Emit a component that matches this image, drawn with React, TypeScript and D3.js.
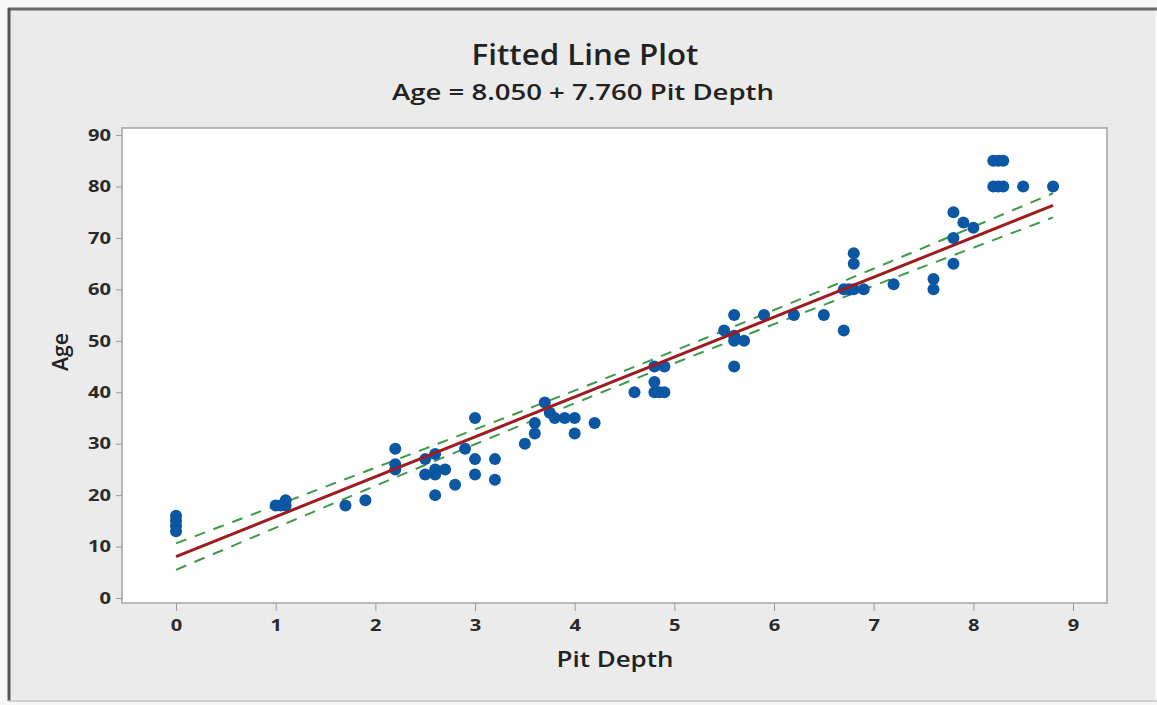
import React, { useEffect, useRef } from 'react';
import * as d3 from 'd3';

// Pit depth vs age
const pitDepth = [
  0, 0, 0, 0,
  1.0, 1.05, 1.1, 1.1,
  1.7, 1.9,
  2.2, 2.2, 2.2,
  2.5, 2.5, 2.6, 2.6, 2.6, 2.6, 2.7,
  2.8, 2.9,
  3.0, 3.0, 3.0,
  3.2, 3.2,
  3.5, 3.6, 3.6, 3.7,
  3.75, 3.8, 3.9, 4.0, 4.0, 4.2,
  4.6, 4.8, 4.9, 4.8, 4.8, 4.85, 4.9,
  5.5, 5.6, 5.6, 5.6, 5.7, 5.6,
  5.9, 6.2, 6.5, 6.7,
  6.8, 6.8, 6.7, 6.75, 6.8, 6.9,
  7.2, 7.6, 7.6,
  7.8, 7.8, 7.8, 7.9, 8.0,
  8.2, 8.25, 8.3, 8.2, 8.25, 8.3, 8.5, 8.8
];
const age = [
  16, 15, 14, 13,
  18, 18, 18, 19,
  18, 19,
  29, 26, 25,
  27, 24, 28, 25, 24, 20, 25,
  22, 29,
  35, 27, 24,
  27, 23,
  30, 32, 34, 38,
  36, 35, 35, 35, 32, 34,
  40, 45, 45, 42, 40, 40, 40,
  52, 55, 51, 50, 50, 45,
  55, 55, 55, 52,
  67, 65, 60, 60, 60, 60,
  61, 62, 60,
  75, 70, 65, 73, 72,
  85, 85, 85, 80, 80, 80, 80, 80
];

const intercept = 8.05;
const slope = 7.76;
const tCrit = 1.994; // 95% t value, ~73 df

const xTicks = [0, 1, 2, 3, 4, 5, 6, 7, 8, 9];
const yTicks = [0, 10, 20, 30, 40, 50, 60, 70, 80, 90];

const W = 1157, H = 705;
const plot = { left: 122, right: 1107, top: 128, bottom: 603 };
const font = "'Open Sans', 'DejaVu Sans', sans-serif";

export default function App() {
  const ref = useRef<SVGSVGElement>(null);

  useEffect(() => {
    const svg = d3.select(ref.current);
    svg.selectAll('*').remove();

    // outer panel
    svg.append('rect').attr('width', W).attr('height', H).attr('fill', '#f6f6f6');
    svg.append('rect')
      .attr('x', 8).attr('y', 8).attr('width', W - 10).attr('height', H - 12)
      .attr('fill', '#ebebeb');
    svg.append('line').attr('x1', 8).attr('x2', W).attr('y1', 9).attr('y2', 9)
      .attr('stroke', '#6a6a6a').attr('stroke-width', 3);
    svg.append('line').attr('x1', 9).attr('x2', 9).attr('y1', 8).attr('y2', H - 4)
      .attr('stroke', '#555').attr('stroke-width', 3);
    svg.append('line').attr('x1', 8).attr('x2', W).attr('y1', H - 4).attr('y2', H - 4)
      .attr('stroke', '#c4c4c4').attr('stroke-width', 1.5);

    const x = d3.scaleLinear().domain([-0.542, 9.341]).range([plot.left, plot.right]);
    const y = d3.scaleLinear().domain([-0.97, 91.37]).range([plot.bottom, plot.top]);

    svg.append('rect')
      .attr('x', plot.left).attr('y', plot.top)
      .attr('width', plot.right - plot.left).attr('height', plot.bottom - plot.top)
      .attr('fill', '#fff').attr('stroke', '#a4a4a4').attr('stroke-width', 1.5);

    // axes
    const xAxis = svg.append('g')
      .attr('transform', 'translate(0,' + plot.bottom + ')')
      .call(d3.axisBottom(x).tickValues(xTicks).tickSize(8).tickPadding(8));
    const yAxis = svg.append('g')
      .attr('transform', 'translate(' + plot.left + ',0)')
      .call(d3.axisLeft(y).tickValues(yTicks).tickSize(6).tickPadding(5));
    [xAxis, yAxis].forEach(g => {
      g.select('.domain').remove();
      g.selectAll('line').attr('stroke', '#999');
      g.selectAll<SVGTextElement, number>('text')
        .style('font', '700 16.5px ' + font)
        .attr('fill', '#2a2a2a')
        .attr('textLength', d => String(d).length * 11.5)
        .attr('lengthAdjust', 'spacingAndGlyphs');
    });

    // regression stats for the 95% CI band
    const n = pitDepth.length;
    const xbar = d3.mean(pitDepth) as number;
    const sxx = d3.sum(pitDepth, d => (d - xbar) * (d - xbar));
    const sse = d3.sum(pitDepth, (d, i) => Math.pow(age[i] - (intercept + slope * d), 2));
    const s = Math.sqrt(sse / (n - 2));
    const x0 = d3.min(pitDepth) as number, x1 = d3.max(pitDepth) as number;
    const grid = d3.range(x0, x1 + 0.001, (x1 - x0) / 60);
    const half = (v: number) => tCrit * s * Math.sqrt(1 / n + (v - xbar) * (v - xbar) / sxx);

    const line = d3.line<number[]>().x(d => x(d[0])).y(d => y(d[1]));

    const g = svg.append('g');
    [1, -1].forEach(sign => {
      g.append('path')
        .datum(grid.map(v => [v, intercept + slope * v + sign * half(v)]))
        .attr('d', line)
        .attr('fill', 'none')
        .attr('stroke', '#3f9a4a')
        .attr('stroke-width', 2)
        .attr('stroke-dasharray', '11,9');
    });

    g.selectAll('circle')
      .data(pitDepth)
      .enter().append('circle')
        .attr('cx', d => x(d))
        .attr('cy', (d, i) => y(age[i]))
        .attr('r', 6)
        .attr('fill', '#0b57a4');

    g.append('path')
      .datum([[x0, intercept + slope * x0], [x1, intercept + slope * x1]])
      .attr('d', line)
      .attr('stroke', '#9e1c1f')
      .attr('stroke-width', 3);

    // titles (stretched a little to match the wide source lettering)
    const label = (txt: string, tx: number, ty: number, size: number, len: number, rot = 0) =>
      svg.append('text')
        .attr('transform', 'translate(' + tx + ',' + ty + ') rotate(' + rot + ')')
        .attr('text-anchor', 'middle')
        .style('font', '600 ' + size + 'px ' + font).attr('fill', '#222')
        .attr('textLength', len).attr('lengthAdjust', 'spacingAndGlyphs')
        .text(txt);

    label('Fitted Line Plot', 585, 65, 28, 227);
    label('Age = 8.050 + 7.760 Pit Depth', 583, 100, 22, 382);
    label('Pit Depth', 615, 667, 22, 117);
    label('Age', 68, 352, 22, 38, -90);
  }, []);

  return (
    <svg ref={ref} width={W} height={H}
      style={{ position: 'absolute', left: 0, top: 0, display: 'block' }} />
  );
}
